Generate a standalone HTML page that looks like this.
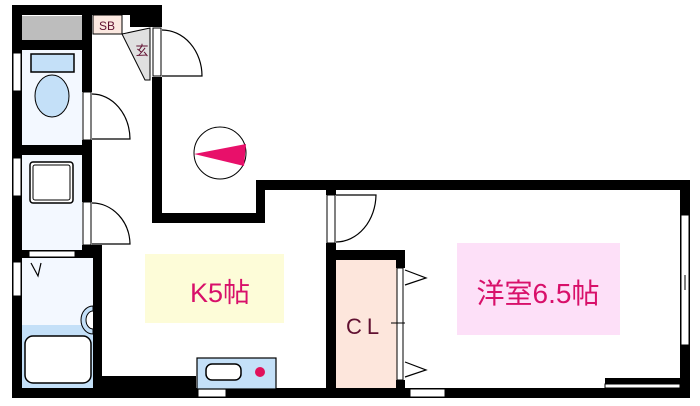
<!DOCTYPE html>
<html><head><meta charset="utf-8"><style>
html,body{margin:0;padding:0;background:#fff;width:700px;height:406px;overflow:hidden}
text{font-family:"Liberation Sans","Noto Sans CJK JP",sans-serif}
</style></head><body>
<svg width="700" height="406" viewBox="0 0 700 406" xmlns="http://www.w3.org/2000/svg">
<rect x="22" y="50" width="60" height="96" fill="#f3f8ff"/>
<rect x="22" y="155" width="60" height="95" fill="#f3f8ff"/>
<rect x="22" y="258" width="71" height="130" fill="#f3f8ff"/>
<rect x="22" y="325" width="71" height="63" fill="#c4e0f8"/>
<rect x="336" y="260" width="61" height="128" fill="#fde6dc"/>
<rect x="145" y="254" width="139" height="69" fill="#fdfcd8"/>
<rect x="457" y="243" width="163" height="92" fill="#fde0f8"/>
<rect x="22" y="16" width="60" height="24" fill="#bdbdbd"/>
<rect x="93" y="15" width="29" height="19" fill="#fbe8e0" stroke="#000" stroke-width="1"/>
<text x="107" y="30" font-size="12" fill="#601030" text-anchor="middle">SB</text>
<polygon points="122,34 150,28 150,80 145,80" fill="#e0e0e0" stroke="#000" stroke-width="1"/>
<text x="142" y="55" font-size="13" fill="#601030" text-anchor="middle">玄</text>
<g fill="#000">
<rect x="12" y="5" width="150" height="10"/>
<rect x="12" y="5" width="10" height="393"/>
<rect x="130" y="5" width="32" height="22"/>
<rect x="152" y="77" width="10" height="146"/>
<rect x="152" y="213" width="113" height="10"/>
<rect x="256" y="180" width="9" height="43"/>
<rect x="256" y="180" width="434" height="10"/>
<rect x="680" y="180" width="10" height="218"/>
<rect x="12" y="388" width="678" height="10"/>
<rect x="605" y="378" width="85" height="20"/>
<rect x="82" y="15" width="10" height="77"/>
<rect x="82" y="140" width="10" height="62"/>
<rect x="82" y="245" width="20" height="13"/>
<rect x="12" y="40" width="80" height="10"/>
<rect x="12" y="145" width="80" height="10"/>
<rect x="12" y="250" width="90" height="8"/>
<rect x="93" y="250" width="9" height="140"/>
<rect x="102" y="376" width="94" height="12"/>
<rect x="326" y="190" width="10" height="5"/>
<rect x="326" y="243" width="10" height="147"/>
<rect x="333" y="250" width="72" height="10"/>
<rect x="396" y="250" width="9" height="18"/>
<rect x="396" y="380" width="9" height="10"/>
</g>
<g fill="#fff" stroke="#000" stroke-width="1">
<rect x="13" y="53" width="8" height="38"/>
<rect x="13" y="158" width="8" height="38"/>
<rect x="13" y="262" width="8" height="34"/>
<rect x="29" y="251" width="46" height="6"/>
<rect x="153" y="28" width="8" height="48"/>
<rect x="83" y="92" width="8" height="48"/>
<rect x="83" y="202" width="8" height="43"/>
<rect x="327" y="195" width="8" height="48"/>
<rect x="397" y="268" width="6" height="112"/>
<rect x="681" y="215" width="8" height="130"/>
<rect x="198" y="389" width="28" height="8"/>
<rect x="410" y="389" width="35" height="8"/>
<rect x="605" y="384" width="75" height="4"/>
</g>
<line x1="685" y1="275" x2="685" y2="290" stroke="#000"/>
<line x1="391" y1="323" x2="405" y2="323" stroke="#000"/>
<g fill="none" stroke="#000" stroke-width="1.2">
<path d="M162 76 L202 76 A40 46 0 0 0 162 30"/>
<path d="M92 139 L130 139 A38 46 0 0 0 92 94"/>
<path d="M92 244 L130 244 A38 42 0 0 0 92 203"/>
<path d="M336 242 A40 48 0 0 0 376 195 L336 195"/>
<path d="M405 270 L426 278 L405 285"/>
<path d="M405 362 L426 370 L405 377"/>
<path d="M31 263 L38 276 L41 263"/>
</g>
<rect x="31" y="54" width="43" height="18" fill="#c4e0f8" stroke="#000" stroke-width="1.5"/>
<ellipse cx="52" cy="96" rx="17" ry="21" fill="#c4e0f8" stroke="#000" stroke-width="1"/>
<rect x="30" y="162" width="43" height="41" rx="3" fill="#fff" stroke="#000" stroke-width="1.5"/>
<rect x="33" y="165" width="37" height="35" rx="2" fill="none" stroke="#000" stroke-width="1"/>
<rect x="25" y="336" width="66" height="47" rx="8" fill="#fff" stroke="#000" stroke-width="1.5"/>
<path d="M93 306 A12 14 0 0 0 93 334 Z" fill="#c4e0f8" stroke="#000"/>
<path d="M93 311 A7 9 0 0 0 93 329" fill="#fff" stroke="#000"/>
<rect x="197" y="358" width="79" height="31" fill="#c4e0f8" stroke="#000" stroke-width="1.2"/>
<rect x="206" y="364" width="35" height="16" rx="6" fill="#fff" stroke="#000" stroke-width="1.5"/>
<circle cx="260" cy="372" r="5" fill="#e0105a"/>
<circle cx="220" cy="153" r="26" fill="#fff" stroke="#000" stroke-width="1"/>
<polygon points="194,154 246,144 244,166" fill="#e8106a"/>
<text x="220" y="302" font-size="27" fill="#d8106a" text-anchor="middle">K5帖</text>
<text x="365" y="334" font-size="22" fill="#601030" text-anchor="middle" letter-spacing="5">CL</text>
<text x="538" y="303" font-size="28" fill="#d8106a" text-anchor="middle">洋室6.5帖</text>
</svg>
</body></html>
